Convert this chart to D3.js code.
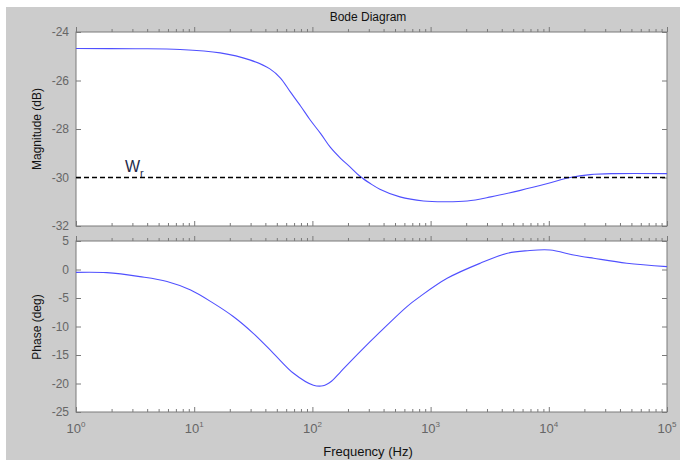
<!DOCTYPE html>
<html>
<head>
<meta charset="utf-8">
<script src="https://cdn.jsdelivr.net/npm/d3@7"></script>
<style>
  body { margin: 0; background: #fff; }
  text { font-family: "Liberation Sans", Arial, sans-serif; }
  .axis path, .axis line { stroke: #7a7a7a; }
  .axis text { fill: #666; font-size: 12px; }
</style>
</head>
<body>
<svg id="chart" width="680" height="460"></svg>
<script>
// magnitude curve (Hz, dB)
var magFreq = [1, 3.16, 7.59, 16.6, 29.5, 43.7, 53.7, 64.6, 79.4, 95.5, 117.5, 141, 174, 209, 251,
               309, 372, 550, 871, 1318, 2042, 3236, 5754, 9772, 15136, 22387, 35481, 100000];
var magDb = [-24.68, -24.69, -24.72, -24.86, -25.15, -25.52, -25.9, -26.45, -27.05, -27.62, -28.19,
             -28.74, -29.22, -29.57, -29.94, -30.25, -30.48, -30.80, -30.97, -31.0, -30.97, -30.80,
             -30.53, -30.25, -30.0, -29.88, -29.84, -29.84];

// phase curve (Hz, deg)
var phFreq = [1, 1.82, 3.47, 5.89, 9.33, 14.5, 21.4, 31.6, 46.8, 69.2, 102, 123, 145, 174, 251, 372,
              631, 813, 1380, 2630, 4467, 6607, 10233, 16218, 23988, 45709, 100000];
var phDeg = [-0.5, -0.55, -1.25, -2.1, -3.6, -5.9, -8.25, -11.2, -14.7, -18.2, -20.3, -20.4, -19.6,
             -17.9, -14.5, -11.0, -6.5, -4.75, -1.55, 1.1, 2.85, 3.3, 3.42, 2.55, 1.97, 1.1, 0.5];

var magTicks = [-32, -30, -28, -26, -24];
var phTicks = [-25, -20, -15, -10, -5, 0, 5];
var decades = [0, 1, 2, 3, 4, 5];
var wrLevel = -30;

var svg = d3.select("#chart");

// grijze achtergrond van de figuur
svg.append("rect").attr("x", 6).attr("y", 7).attr("width", 674).attr("height", 453)
    .style("fill", "#cccccc");

var left = 76, right = 667;
var x = d3.scaleLog().domain([1, 1e5]).range([left, right]);

// minor ticks 2..9 per decade
var minor = [];
decades.slice(0, 5).forEach(function(p) {
    for (var k = 2; k <= 9; k++) minor.push(k * Math.pow(10, p));
});
var major = decades.map(function(p) { return Math.pow(10, p); });

function panel(top, bottom, domain, ticks) {
    var y = d3.scaleLinear().domain(domain).range([bottom, top]);

    svg.append("rect").attr("x", left).attr("y", top)
        .attr("width", right - left).attr("height", bottom - top)
        .style("fill", "#fff").style("stroke", "#7a7a7a");

    // ticks, naar binnen
    [[d3.axisBottom(x), bottom], [d3.axisTop(x), top]].forEach(function(a, i) {
        var g = svg.append("g").attr("class", "axis").attr("transform", "translate(0," + a[1] + ")");
        var dir = i === 0 ? -1 : 1;
        g.call(a[0].tickValues(major).tickSize(dir * 5).tickFormat(""));
        g.select(".domain").remove();
        var g2 = svg.append("g").attr("class", "axis").attr("transform", "translate(0," + a[1] + ")");
        g2.call(a[0].tickValues(minor).tickSize(dir * 3).tickFormat(""));
        g2.select(".domain").remove();
    });

    var gl = svg.append("g").attr("class", "axis").attr("transform", "translate(" + left + ",0)")
        .call(d3.axisLeft(y).tickValues(ticks).tickSize(-5).tickPadding(7).tickFormat(d3.format("d")));
    gl.select(".domain").remove();
    gl.selectAll("text").text(function(d) { return d < 0 ? "-" + Math.abs(d) : d; });

    var gr = svg.append("g").attr("class", "axis").attr("transform", "translate(" + right + ",0)")
        .call(d3.axisRight(y).tickValues(ticks).tickSize(-5).tickFormat(""));
    gr.select(".domain").remove();

    return y;
}

var yMag = panel(32, 226, [-32, -24], magTicks);
var yPh = panel(241, 412, [-25, 5], phTicks);

// curves
var magLine = d3.line()
    .x(function(d, i) { return x(magFreq[i]); })
    .y(function(d) { return yMag(d); })
    .curve(d3.curveCatmullRom.alpha(0.5));

var phLine = d3.line()
    .x(function(d, i) { return x(phFreq[i]); })
    .y(function(d) { return yPh(d); })
    .curve(d3.curveCatmullRom.alpha(0.5));

svg.append("path").attr("d", magLine(magDb))
    .style("fill", "none").style("stroke", "#5050ff").style("stroke-width", 1.1);

svg.append("path").attr("d", phLine(phDeg))
    .style("fill", "none").style("stroke", "#5050ff").style("stroke-width", 1.1);

// Wr stippellijn
svg.append("line").attr("x1", left).attr("x2", right)
    .attr("y1", yMag(wrLevel)).attr("y2", yMag(wrLevel))
    .style("stroke", "#000").style("stroke-width", 1.6).style("stroke-dasharray", "5,3");

var wr = svg.append("text").attr("x", 125).attr("y", yMag(wrLevel) - 6)
    .style("font-size", "16px").style("fill", "#1f2a4a");
wr.append("tspan").text("W");
wr.append("tspan").attr("dy", 5).style("font-size", "11px").text("r");

// x tick labels 10^n
var xl = svg.selectAll(".xlab").data(decades).enter().append("text")
    .attr("class", "xlab")
    .attr("x", function(d) { return x(Math.pow(10, d)); })
    .attr("y", 433)
    .style("text-anchor", "middle")
    .style("font-size", "13px").style("fill", "#666");
xl.append("tspan").text("10");
xl.append("tspan").attr("dy", -6).style("font-size", "8px").text(function(d) { return d; });

// titels
svg.append("text").attr("x", 368).attr("y", 21).style("text-anchor", "middle")
    .style("font-size", "12px").style("fill", "#111").text("Bode Diagram");

svg.append("text").attr("x", 368).attr("y", 456).style("text-anchor", "middle")
    .style("font-size", "13px").style("fill", "#111").text("Frequency  (Hz)");

svg.append("text").attr("transform", "translate(41,129) rotate(-90)").style("text-anchor", "middle")
    .style("font-size", "12px").style("fill", "#111").text("Magnitude (dB)");

svg.append("text").attr("transform", "translate(41,327) rotate(-90)").style("text-anchor", "middle")
    .style("font-size", "12px").style("fill", "#111").text("Phase (deg)");
</script>
</body>
</html>
